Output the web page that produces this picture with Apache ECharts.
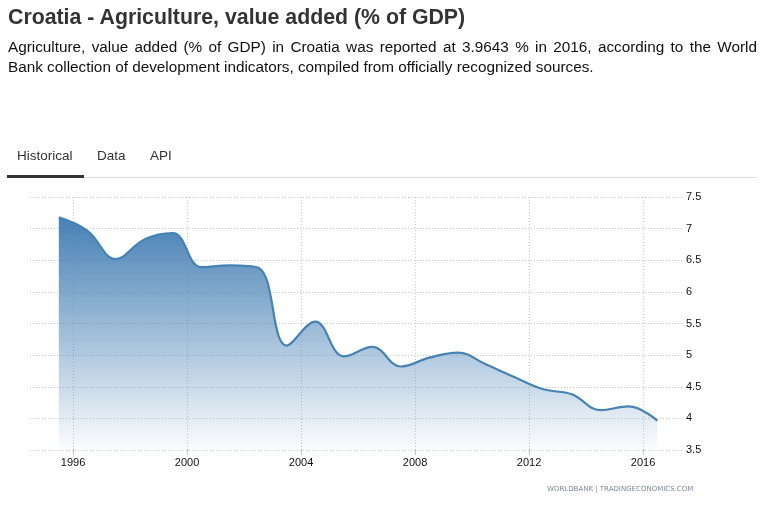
<!DOCTYPE html>
<html>
<head>
<meta charset="utf-8">
<script src="https://cdn.jsdelivr.net/npm/echarts@6/dist/echarts.min.js"></script>
<style>
  html, body { margin: 0; padding: 0; background: #fff; }
  body { width: 765px; height: 510px; position: relative; overflow: hidden; font-family: Arial, "Liberation Sans", sans-serif; }
  #chart { position: absolute; left: 0; top: 0; width: 765px; height: 510px; }
  .txt { position: absolute; z-index: 2; }
  #title { left: 8px; top: 4px; font-size: 21.3px; font-weight: bold; color: #333; line-height: 26px; white-space: nowrap; }
  #desc { left: 8px; top: 37px; width: 749px; font-size: 15.3px; line-height: 20px; color: #111; }
  #desc .l1 { text-align: justify; text-align-last: justify; white-space: nowrap; }
  #desc .l1 { white-space: normal; }
  #tabs { left: 7px; top: 145px; width: 750px; height: 32px; border-bottom: 1px solid #ddd; }
  .tab { position: absolute; top: 3px; font-size: 13.5px; color: #333; }
  #tabline { position: absolute; left: 0; top: 30px; width: 77px; height: 3px; background: #333; }
</style>
</head>
<body>
<div id="chart"></div>
<div class="txt" id="title">Croatia - Agriculture, value added (% of GDP)</div>
<div class="txt" id="desc"><div class="l1">Agriculture, value added (% of GDP) in Croatia was reported at 3.9643 % in 2016, according to the World</div><div>Bank collection of development indicators, compiled from officially recognized sources.</div></div>
<div class="txt" id="tabs">
  <span class="tab" style="left:10px">Historical</span>
  <span class="tab" style="left:90px">Data</span>
  <span class="tab" style="left:143px">API</span>
  <div id="tabline"></div>
</div>
<script>
// Data (annual, World Bank)
var years = [1995, 1996, 1997, 1998, 1999, 2000, 2001, 2002, 2003, 2004, 2005,
             2006, 2007, 2008, 2009, 2010, 2011, 2012, 2013, 2014, 2015, 2016];
var values = [7.18, 6.97, 6.52, 6.83, 6.93, 6.39, 6.42, 6.38, 5.15, 5.53, 4.98,
              5.13, 4.82, 4.96, 5.04, 4.85, 4.65, 4.46, 4.38, 4.13, 4.19, 3.9643];
var xTickYears = [1996, 2000, 2004, 2008, 2012, 2016];
var yTicks = [3.5, 4, 4.5, 5, 5.5, 6, 6.5, 7, 7.5];

// annual observations are plotted at mid-year
var MID_YEAR = 0.5;
var seriesData = years.map(function (y, i) { return [y + MID_YEAR, values[i]]; });

var chart = echarts.init(document.getElementById('chart'), null, { renderer: 'canvas' });
var gridLine = { show: true, lineStyle: { color: '#c8c8c8', type: [1, 2], width: 1 } };
chart.setOption({
  animation: false,
  grid: { left: 30, right: 82, top: 197, bottom: 60, containLabel: false },
  xAxis: {
    type: 'value',
    min: 1994.49,
    max: 2017.4,
    axisLine: { show: false },
    axisTick: { show: true, customValues: xTickYears, length: 5, lineStyle: { color: '#c8c8c8' } },
    axisLabel: {
      customValues: xTickYears,
      color: '#111',
      fontSize: 11,
      fontFamily: 'Arial',
      margin: 7,
      formatter: function (v) { return String(Math.round(v)); }
    },
    splitLine: gridLine
  },
  yAxis: {
    type: 'value',
    position: 'right',
    min: yTicks[0],
    max: yTicks[yTicks.length - 1],
    interval: 0.5,
    axisLine: { show: false },
    axisTick: { show: false },
    axisLabel: { color: '#111', fontSize: 11, fontFamily: 'Arial', margin: 3 },
    splitLine: gridLine
  },
  series: [{
    type: 'line',
    data: seriesData,
    smooth: 0.4,
    symbol: 'none',
    lineStyle: { color: '#4682b4', width: 2.2 },
    areaStyle: {
      opacity: 1,
      color: new echarts.graphic.LinearGradient(0, 0, 0, 1, [
        { offset: 0, color: 'rgba(70,128,180,1)' },
        { offset: 1, color: 'rgba(70,128,180,0.02)' }
      ])
    }
  }],
  graphic: [{
    type: 'text',
    left: 547,
    top: 486,
    style: {
      text: 'WORLDBANK | TRADINGECONOMICS.COM',
      fill: '#7b8a9c',
      font: '7px Tahoma, "DejaVu Sans", sans-serif'
    }
  }]
});
</script>
</body>
</html>
